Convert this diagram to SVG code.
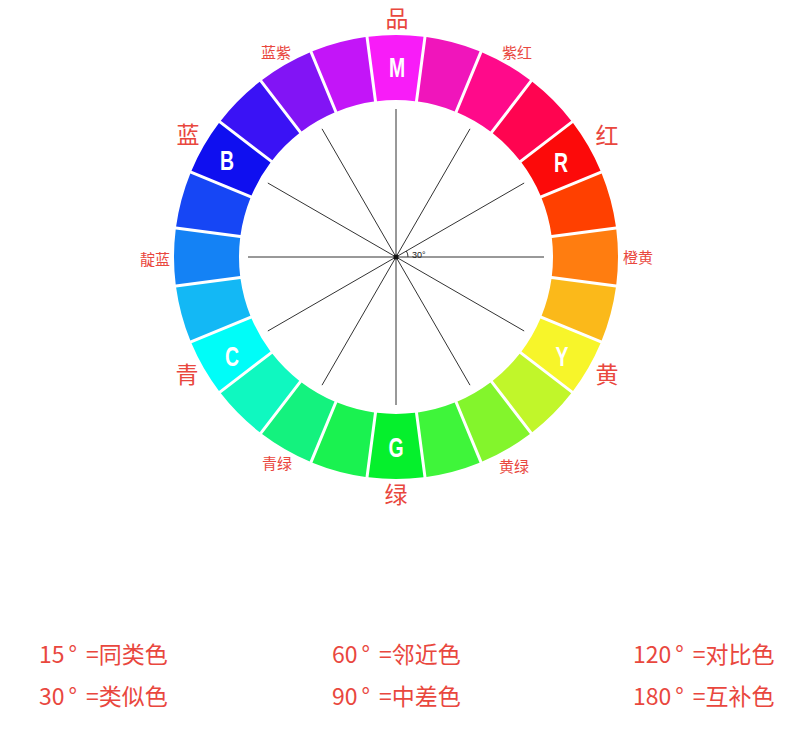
<svg xmlns="http://www.w3.org/2000/svg" xmlns:xlink="http://www.w3.org/1999/xlink" width="806" height="731" viewBox="0 0 806 731">
<style>
.big{font-family:"Noto Sans CJK SC","Noto Sans",sans-serif;font-size:23px;fill:#e9473e;text-anchor:middle}
.small{font-family:"Noto Sans CJK SC","Noto Sans",sans-serif;font-size:15px;fill:#e9473e;text-anchor:middle}
.ltr{font-family:"Liberation Sans","DejaVu Sans",sans-serif;font-weight:bold;font-size:27px;fill:#ffffff;text-anchor:middle}
.legend{font-family:"Noto Sans CJK SC","Noto Sans",sans-serif;font-size:23px;fill:#e9473e}
.spoke{stroke:#333;stroke-width:1;fill:none}
</style>
<defs>
<path id="seg" d="M377.00,101.15 L368.51,36.71 A222,222 0 0 1 423.49,36.71 L415.00,101.15 A157,157 0 0 0 377.00,101.15 Z"/>
</defs>
<rect width="806" height="731" fill="#ffffff"/>
<g id="wheel">
<g id="seg-M"><use xlink:href="#seg" fill="#f81cf8"/></g>
<g id="seg-1"><use xlink:href="#seg" fill="#f015bb" transform="rotate(15 396 257)"/></g>
<g id="seg-2"><use xlink:href="#seg" fill="#ff0a8a" transform="rotate(30 396 257)"/></g>
<g id="seg-3"><use xlink:href="#seg" fill="#ff0450" transform="rotate(45 396 257)"/></g>
<g id="seg-R"><use xlink:href="#seg" fill="#fc0a0a" transform="rotate(60 396 257)"/></g>
<g id="seg-5"><use xlink:href="#seg" fill="#ff4000" transform="rotate(75 396 257)"/></g>
<g id="seg-6"><use xlink:href="#seg" fill="#ff7d10" transform="rotate(90 396 257)"/></g>
<g id="seg-7"><use xlink:href="#seg" fill="#fbb91a" transform="rotate(105 396 257)"/></g>
<g id="seg-Y"><use xlink:href="#seg" fill="#f7f52a" transform="rotate(120 396 257)"/></g>
<g id="seg-9"><use xlink:href="#seg" fill="#c1f62a" transform="rotate(135 396 257)"/></g>
<g id="seg-10"><use xlink:href="#seg" fill="#83f52c" transform="rotate(150 396 257)"/></g>
<g id="seg-11"><use xlink:href="#seg" fill="#3ff53a" transform="rotate(165 396 257)"/></g>
<g id="seg-G"><use xlink:href="#seg" fill="#05f02c" transform="rotate(180 396 257)"/></g>
<g id="seg-13"><use xlink:href="#seg" fill="#1af250" transform="rotate(195 396 257)"/></g>
<g id="seg-14"><use xlink:href="#seg" fill="#14f27e" transform="rotate(210 396 257)"/></g>
<g id="seg-15"><use xlink:href="#seg" fill="#0ff8c0" transform="rotate(225 396 257)"/></g>
<g id="seg-C"><use xlink:href="#seg" fill="#00fdf8" transform="rotate(240 396 257)"/></g>
<g id="seg-17"><use xlink:href="#seg" fill="#13b8f5" transform="rotate(255 396 257)"/></g>
<g id="seg-18"><use xlink:href="#seg" fill="#1482f5" transform="rotate(270 396 257)"/></g>
<g id="seg-19"><use xlink:href="#seg" fill="#1646f5" transform="rotate(285 396 257)"/></g>
<g id="seg-B"><use xlink:href="#seg" fill="#0f0ff0" transform="rotate(300 396 257)"/></g>
<g id="seg-21"><use xlink:href="#seg" fill="#3a12f5" transform="rotate(315 396 257)"/></g>
<g id="seg-22"><use xlink:href="#seg" fill="#8214f5" transform="rotate(330 396 257)"/></g>
<g id="seg-23"><use xlink:href="#seg" fill="#c315f8" transform="rotate(345 396 257)"/></g>
</g>
<g id="letters">
<text class="ltr" transform="translate(397 77) scale(0.72 1)">M</text>
<text class="ltr" transform="translate(561 172) scale(0.72 1)">R</text>
<text class="ltr" transform="translate(562 366) scale(0.72 1)">Y</text>
<text class="ltr" transform="translate(396 457) scale(0.72 1)">G</text>
<text class="ltr" transform="translate(232 366) scale(0.72 1)">C</text>
<text class="ltr" transform="translate(227 170) scale(0.72 1)">B</text>
</g>
<g id="connectors">
<line class="spoke" x1="396" y1="257" x2="544" y2="257"/>
<line class="spoke" x1="396" y1="257" x2="524.17" y2="331"/>
<line class="spoke" x1="396" y1="257" x2="470" y2="385.17"/>
<line class="spoke" x1="396" y1="257" x2="396" y2="405"/>
<line class="spoke" x1="396" y1="257" x2="322" y2="385.17"/>
<line class="spoke" x1="396" y1="257" x2="267.83" y2="331"/>
<line class="spoke" x1="396" y1="257" x2="248" y2="257"/>
<line class="spoke" x1="396" y1="257" x2="267.83" y2="183"/>
<line class="spoke" x1="396" y1="257" x2="322" y2="128.83"/>
<line class="spoke" x1="396" y1="257" x2="396" y2="109"/>
<line class="spoke" x1="396" y1="257" x2="470" y2="128.83"/>
<line class="spoke" x1="396" y1="257" x2="524.17" y2="183"/>
<path class="spoke" d="M408,257 A12,12 0 0 0 406.39,251" stroke-width="0.8"/>
</g>
<g id="center">
<circle cx="396" cy="257" r="2.5" fill="#111"/>
<text x="412" y="258" font-family="Liberation Sans, sans-serif" font-size="9" fill="#222">30°</text>
</g>
<g id="labels">
<text class="big" x="397" y="27">品</text>
<text class="small" x="276" y="58">蓝紫</text>
<text class="small" x="517" y="58">紫红</text>
<text class="big" x="188" y="143">蓝</text>
<text class="big" x="607" y="144">红</text>
<text class="small" x="155" y="265">靛蓝</text>
<text class="small" x="638" y="263">橙黄</text>
<text class="big" x="187" y="383">青</text>
<text class="big" x="607" y="383">黄</text>
<text class="small" x="277" y="469">青绿</text>
<text class="small" x="514" y="472">黄绿</text>
<text class="big" x="396" y="503">绿</text>
</g>
<g id="legend">
<text class="legend" x="39" y="663">15<tspan dx="4">°</tspan><tspan dx="9">=同类色</tspan></text>
<text class="legend" x="39" y="705">30<tspan dx="4">°</tspan><tspan dx="9">=类似色</tspan></text>
<text class="legend" x="332" y="663">60<tspan dx="4">°</tspan><tspan dx="9">=邻近色</tspan></text>
<text class="legend" x="332" y="705">90<tspan dx="4">°</tspan><tspan dx="9">=中差色</tspan></text>
<text class="legend" x="633" y="663">120<tspan dx="4">°</tspan><tspan dx="9">=对比色</tspan></text>
<text class="legend" x="633" y="705">180<tspan dx="4">°</tspan><tspan dx="9">=互补色</tspan></text>
</g>
</svg>
